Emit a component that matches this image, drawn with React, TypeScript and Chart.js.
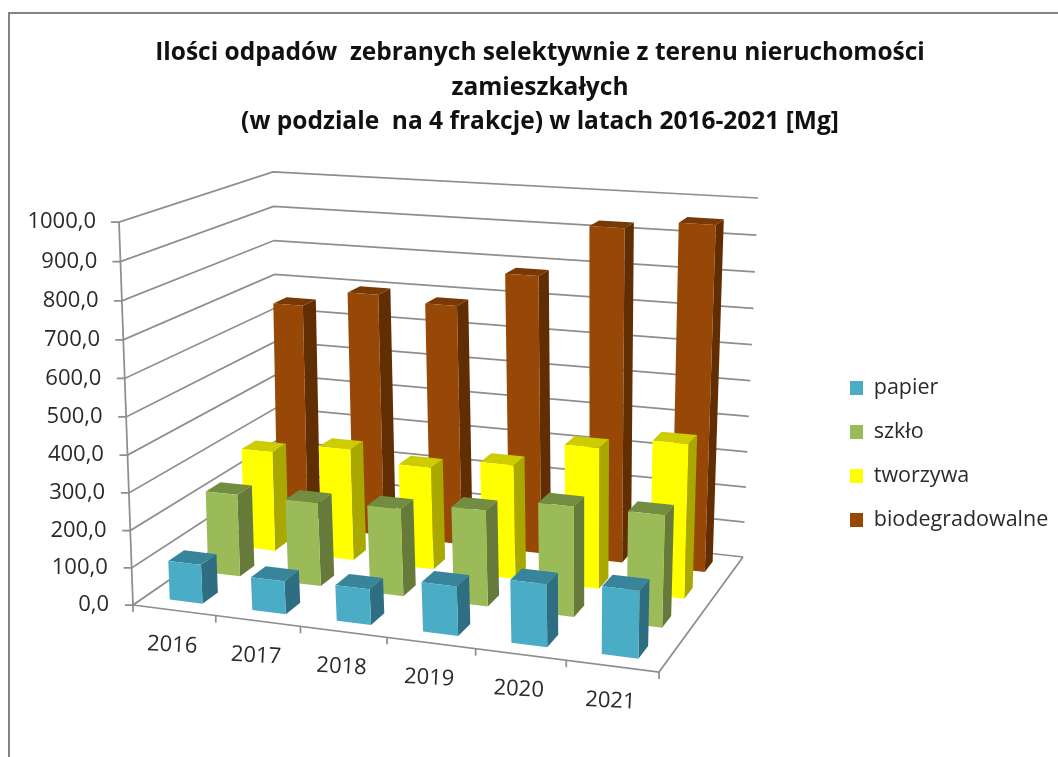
import React, { useEffect, useRef } from "react";
import { Chart, LinearScale, registerables } from "chart.js";

const categories = ["2016", "2017", "2018", "2019", "2020", "2021"];
const papier = [105, 88, 94, 129, 162, 173];
const szklo = [227, 229, 237, 258, 293, 295];
const tworzywa = [284, 313, 285, 315, 385, 418];
const biodegradowalne = [650, 698, 683, 782, 927, 950];
const titleLines = [
  "Ilości odpadów  zebranych selektywnie z terenu nieruchomości",
  "zamieszkałych",
  "(w podziale  na 4 frakcje) w latach 2016-2021 [Mg]",
];
const seriesNames = ["papier", "szkło", "tworzywa", "biodegradowalne"];
const seriesValues = [papier, szklo, tworzywa, biodegradowalne];
const frontColors = ["#4BACC6", "#9BBB59", "#FFFF00", "#974706"];
const topColors = ["#38859B", "#728C42", "#CCCC00", "#793905"];
const sideColors = ["#2F6E82", "#667A3B", "#A8A800", "#612E04"];

const FONT = "'Open Sans', sans-serif";
const TEXT = "#2A2A2A";
const GRID = "#8E8E8E";

type P = [number, number];
// the floor and ceiling of the 3D box: front-left, front-right, back-right, back-left
const FLOOR: P[] = [[133, 605], [659, 672], [743, 557], [278, 505]];
const CEILING: P[] = [[119, 222], [670, 262], [758, 198], [273, 172]];
const PERSPECTIVE = 0.965;

function quad(q: P[]) {
  const [[x0, y0], [x1, y1], [x2, y2], [x3, y3]] = q;
  const dx1 = x1 - x2, dx2 = x3 - x2, sx = x0 - x1 + x2 - x3;
  const dy1 = y1 - y2, dy2 = y3 - y2, sy = y0 - y1 + y2 - y3;
  const den = dx1 * dy2 - dx2 * dy1;
  const g = (sx * dy2 - dx2 * sy) / den;
  const h = (dx1 * sy - sx * dy1) / den;
  const a = x1 - x0 + g * x1, b = x3 - x0 + h * x3;
  const d = y1 - y0 + g * y1, e = y3 - y0 + h * y3;
  return (u: number, v: number): P => {
    const w = g * u + h * v + 1;
    return [(a * u + b * v + x0) / w, (d * u + e * v + y0) / w];
  };
}
const floorAt = quad(FLOOR);
const ceilingAt = quad(CEILING);
// u: along the categories 0..1, v: depth 0..1, s: height 0..1
function project(u: number, v: number, s: number): P {
  const f = floorAt(u, v);
  const c = ceilingAt(u, v);
  return [f[0] + (c[0] - f[0]) * s, f[1] + (c[1] - f[1]) * s];
}

class PerspectiveScale extends (LinearScale as any) {
  static id = "perspective";
  static defaults = (LinearScale as any).defaults;
  getPixelForDecimal(d: number) {
    const s = (d * PERSPECTIVE) / (1 - d + d * PERSPECTIVE);
    return super.getPixelForDecimal(s);
  }
  _computeLabelItems(area: any) {
    const items = super._computeLabelItems(area);
    for (const it of items) {
      const y = it.options.translation[1];
      it.options.translation[0] -= (13 * ((this as any).bottom - y)) / (this as any).height;
    }
    return items;
  }
}
Chart.register(...registerables, PerspectiveScale as any);

function poly(ctx: CanvasRenderingContext2D, pts: P[], fill: string) {
  ctx.beginPath();
  pts.forEach((p, i) => (i ? ctx.lineTo(p[0], p[1]) : ctx.moveTo(p[0], p[1])));
  ctx.closePath();
  ctx.fillStyle = fill;
  ctx.fill();
}
function line(ctx: CanvasRenderingContext2D, pts: P[]) {
  ctx.beginPath();
  pts.forEach((p, i) => (i ? ctx.lineTo(p[0], p[1]) : ctx.moveTo(p[0], p[1])));
  ctx.stroke();
}

const box3d = {
  id: "box3d",
  afterLayout(chart: any) {
    const l = chart.legend;
    l.left = 827.5;
    l.top = 100;
    l.bottom = 808;
    chart.titleBlock.left = 22;
  },
  beforeDatasetsDraw(chart: any) {
    const { ctx, scales } = chart;
    const { y } = scales;
    ctx.save();
    ctx.strokeStyle = GRID;
    ctx.lineWidth = 1.75;
    for (let i = 0; i < y.ticks.length; i++) {
      const s = (y.bottom - y.getPixelForTick(i)) / y.height;
      const a = project(0, 0, s);
      line(ctx, [[a[0] - 8, a[1]], a, project(0, 1, s), project(1, 1, s)]);
    }
    line(ctx, [project(0, 0, 0), project(0, 0, 1)]);
    line(ctx, [project(0, 0, 0), project(1, 0, 0), project(1, 1, 0)]);
    const n = categories.length;
    for (let i = 0; i <= n; i++) {
      const p = project(i / n, 0, 0);
      line(ctx, [p, [p[0], p[1] + 7]]);
    }
    ctx.restore();
  },
  beforeDatasetDraw(chart: any, args: any) {
    const { ctx, scales } = chart;
    const { x, y } = scales;
    const meta = args.meta;
    const rows = chart.data.datasets.length;
    const j = meta.index;
    const v0 = (j + 0.3) / rows, v1 = (j + 0.7) / rows;
    ctx.save();
    for (const el of meta.data) {
      const cx = (el.x - x.left) / x.width;
      const half = el.width / 2 / x.width;
      const u0 = cx - half, u1 = cx + half;
      const s = (y.bottom - el.y) / y.height;
      poly(ctx, [project(u1, v0, 0), project(u1, v1, 0), project(u1, v1, s), project(u1, v0, s)], sideColors[j]);
      poly(ctx, [project(u0, v0, s), project(u1, v0, s), project(u1, v1, s), project(u0, v1, s)], topColors[j]);
      poly(ctx, [project(u0, v0, 0), project(u1, v0, 0), project(u1, v0, s), project(u0, v0, s)], frontColors[j]);
    }
    ctx.restore();
    return false;
  },
  afterDatasetsDraw(chart: any) {
    const { ctx, scales } = chart;
    const { x } = scales;
    ctx.save();
    ctx.font = `22px ${FONT}`;
    ctx.fillStyle = TEXT;
    ctx.textAlign = "center";
    ctx.textBaseline = "middle";
    x.ticks.forEach((t: any, i: number) => {
      const u = (x.getPixelForTick(i) - x.left) / x.width;
      const p = project(u, 0, 0);
      ctx.save();
      ctx.translate(p[0] - 2, p[1] + 35);
      ctx.rotate((3 * Math.PI) / 180);
      ctx.fillText(x.getLabelForValue(t.value), 0, 0);
      ctx.restore();
    });
    ctx.restore();
  },
};

export default function App() {
  const ref = useRef<HTMLCanvasElement | null>(null);
  useEffect(() => {
    const chart = new Chart(ref.current!, {
      type: "bar",
      data: {
        labels: categories,
        datasets: seriesNames.map((label, i) => ({
          label,
          data: seriesValues[i],
          backgroundColor: frontColors[i],
          borderWidth: 0,
          barPercentage: 0.4,
          categoryPercentage: 1,
        })),
      },
      options: {
        animation: false,
        responsive: false,
        layout: { padding: { top: 0, left: 0, right: 0, bottom: 152 } },
        scales: {
          x: { display: false, stacked: true },
          y: {
            type: "perspective",
            position: "left",
            min: 0,
            max: 1000,
            grid: { display: false },
            border: { display: false },
            ticks: {
              stepSize: 100,
              padding: 3,
              color: TEXT,
              font: { family: FONT, size: 22 },
              callback: (v: number) => v.toFixed(1).replace(".", ","),
            },
            afterFit: (s: any) => {
              s.width = 120;
            },
          },
        } as any,
        plugins: {
          tooltip: { enabled: false },
          title: {
            display: true,
            text: titleLines,
            color: "#111111",
            padding: { top: 36, bottom: 82.5 },
            font: { family: FONT, size: 24.5, weight: "bold", lineHeight: 1.41 },
          },
          legend: {
            position: "right",
            labels: {
              boxWidth: 13,
              boxHeight: 14,
              padding: 22.5,
              color: TEXT,
              font: { family: FONT, size: 21.5 },
            },
          },
        },
      } as any,
      plugins: [box3d as any],
    });
    return () => chart.destroy();
  }, []);
  return (
    <div style={{ position: "absolute", left: 0, top: 0, width: 1058, height: 757, overflow: "hidden", background: "#fff" }}>
      <div style={{ position: "absolute", left: 8, top: 12, width: 1060, height: 760, borderLeft: "2.5px solid #848484", borderTop: "2.5px solid #848484" }} />
      <canvas ref={ref} width={1058} height={757} style={{ position: "absolute", left: 0, top: 0, display: "block" }} />
    </div>
  );
}
